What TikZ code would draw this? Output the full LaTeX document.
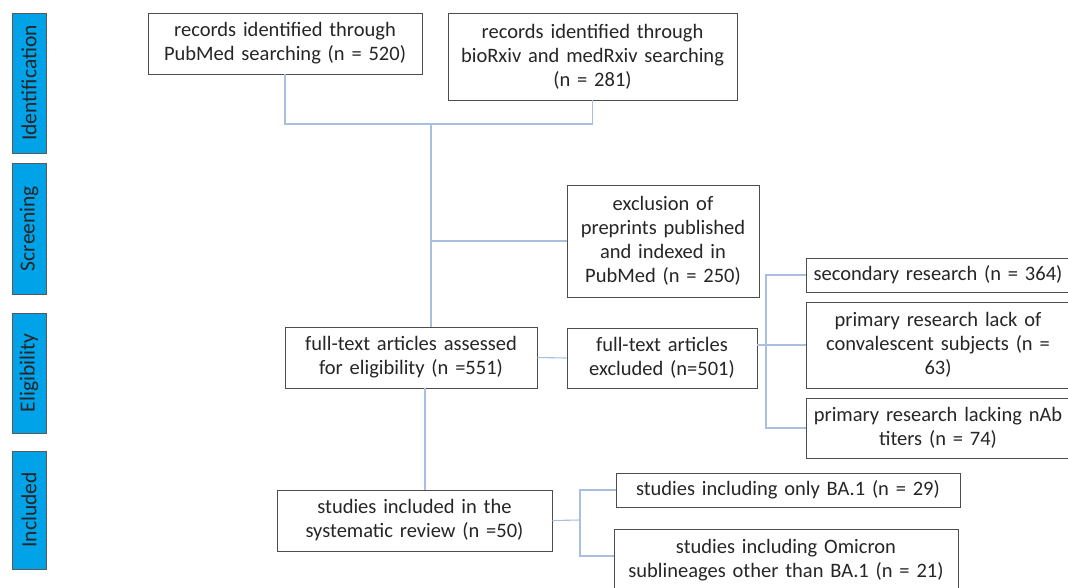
\documentclass[tikz,border=0pt]{standalone}
\usepackage{fontspec}
\setmainfont{Carlito}[WordSpace=0.8]
\usetikzlibrary{positioning,calc}
\definecolor{stageblue}{RGB}{0,162,232}
\definecolor{linkblue}{RGB}{170,190,225}

\begin{document}
\begin{tikzpicture}[x=1pt,y=-1pt,
	box/.style={draw=black!70,line width=0.9pt,fill=white,align=center,inner sep=3pt,text=black!85,font=\fontsize{20.5}{24}\selectfont},
	stage/.style={draw=black!65,line width=1pt,fill=stageblue,rotate=90,minimum height=34pt,inner sep=0pt,text=black!85,font=\fontsize{21.5}{24}\selectfont},
	link/.style={linkblue,line width=1.1pt}]

		\useasboundingbox (0,0) rectangle (1068,587);

		% stages on the left
		\node[stage,minimum width=140pt] (ident) at (29,83) {Identification};
		\node[stage,minimum width=131pt] (screen) at (29,228.5) {Screening};
		\node[stage,minimum width=120pt] (elig) at (29,373) {Eligibility};
		\node[stage,minimum width=118pt] (incl) at (29,510) {Included};

		% records
		\node[box,text width=268pt,minimum height=61pt] (pubmed) at (285,43.5) {records identified through\\PubMed searching (n = 520)};
		\node[box,text width=283pt,minimum height=87pt] (biorxiv) at (592.5,56.5) {records identified through\\bioRxiv and medRxiv searching\\(n = 281)};
		\node[box,text width=186pt,minimum height=112pt] (excl) at (663,241) {exclusion of\\preprints published\\and indexed in\\PubMed (n = 250)};

		% eligibility
		\node[box,text width=246pt,minimum height=61pt] (assessed) at (411,357.5) {full-text articles assessed\\for eligibility (n =551)};
		\node[box,text width=184pt,minimum height=60pt] (excluded) at (662,358) {full-text articles\\excluded (n=501)};
		\node[box,text width=258pt,minimum height=34pt] (secondary) at (938,275) {secondary research (n = 364)};
		\node[box,text width=258pt,minimum height=86pt] (lackconv) at (938,345) {primary research lack of\\convalescent subjects (n =\\63)};
		\node[box,text width=258pt,minimum height=60pt] (lacknab) at (938,428) {primary research lacking nAb\\titers (n = 74)};

		% included
		\node[box,text width=269pt,minimum height=61pt] (included) at (414.5,520.5) {studies included in the\\systematic review (n =50)};
		\node[box,text width=338pt,minimum height=34pt] (ba1) at (788,490) {studies including only BA.1 (n = 29)};
		\node[box,text width=338pt,minimum height=62pt] (omicron) at (786,560) {studies including Omicron\\sublineages other than BA.1 (n = 21)};

		\coordinate (join) at (431,124);
		\coordinate (stem) at (425,388);
		\coordinate (brk1) at (766,350);
		\coordinate (brk2) at (580,520);

		\draw[link] (pubmed.south) |- (join) -| (biorxiv.south);
		\draw[link] (join) -- (join |- assessed.north);
		\draw[link] (join |- excl.west) -- (excl.west);
		\draw[link] (assessed.east) -- (excluded.west);
		\draw[link] (excluded.east |- lackconv.west) -- (lackconv.west);
		\draw[link] (secondary.west) -| (brk1) |- (lacknab.west);
		\draw[link] (stem) -- (stem |- included.north);
		\draw[link] (included.east) -- (brk2);
		\draw[link] (ba1.west) -| (brk2) |- ([yshift=4pt]omicron.west);
	\end{tikzpicture}
\end{document}
